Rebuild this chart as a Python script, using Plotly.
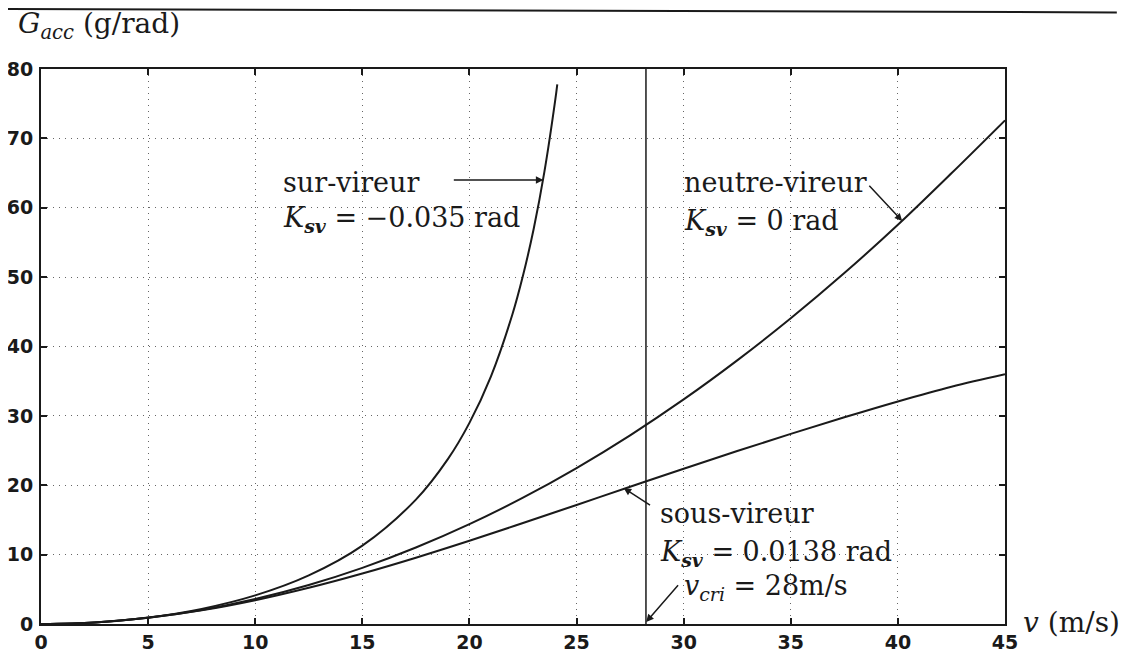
import plotly.graph_objects as go

# Speeds (m/s) and accel gain readings (g/rad)
v_main = [0, 2.5, 5, 7.5, 10, 12.5, 15, 17.5, 20, 22.5, 25, 27.5, 30, 32.5, 35, 37.5, 40, 42.5, 45]
g_neutre = [0, 0.22, 0.90, 2.02, 3.60, 5.62, 8.09, 11.02, 14.39, 18.21, 22.48, 27.20, 32.37, 38.0, 44.06, 50.58, 57.55, 64.97, 72.6]
g_sous = [0, 0.22, 0.89, 1.97, 3.43, 5.22, 7.28, 9.56, 12.0, 14.55, 17.16, 19.78, 22.38, 24.93, 27.40, 29.79, 32.08, 34.2, 36.0]

v_sur = [0, 2.5, 5, 7.5, 10, 12.5, 15, 17.5, 19, 20, 21, 22, 22.5, 23, 23.5, 24, 24.1]
g_sur = [0, 0.23, 0.93, 2.18, 4.12, 7.00, 11.29, 17.93, 23.8, 28.99, 35.67, 44.57, 50.22, 56.97, 65.2, 75.4, 77.8]

v_cri = 28.24

x_ticks = [0, 5, 10, 15, 20, 25, 30, 35, 40, 45]
y_ticks = [0, 10, 20, 30, 40, 50, 60, 70, 80]

SERIF = "DejaVu Serif, Liberation Serif, serif"
TXT = 27
INK = "#1a1a1a"

fig = go.Figure()
line = dict(color=INK, width=2, shape="spline")
fig.add_trace(go.Scatter(x=v_sur, y=g_sur, mode="lines", line=line, showlegend=False))
fig.add_trace(go.Scatter(x=v_main, y=g_neutre, mode="lines", line=line, showlegend=False))
fig.add_trace(go.Scatter(x=v_main, y=g_sous, mode="lines", line=line, showlegend=False))
fig.add_trace(go.Scatter(x=[v_cri, v_cri], y=[0, 80], mode="lines",
                         line=dict(color=INK, width=1.5), showlegend=False))

ann = []
def txt(x, y, s):
    ann.append(dict(x=x, y=y, xref="x", yref="y", text=s, showarrow=False,
                    xanchor="left", yanchor="middle",
                    font=dict(family=SERIF, size=TXT, color=INK)))
def arr(x0, y0, x1, y1):
    ann.append(dict(x=x1, y=y1, ax=x0, ay=y0, xref="x", yref="y", axref="x", ayref="y",
                    text="", showarrow=True, arrowhead=2, arrowsize=1, arrowwidth=1.5,
                    arrowcolor=INK, standoff=0))

K = "<i>K</i><sub><i><b>sv</b></i></sub>"
txt(11.2, 63.6, "sur-vireur")
txt(11.2, 58.3, K + " = −0.035 rad")
arr(19.2, 64.0, 23.45, 64.0)
txt(29.9, 63.6, "neutre-vireur")
txt(29.9, 57.9, K + " = 0 rad")
arr(38.6, 63.4, 40.2, 58.1)
txt(28.8, 16.0, "sous-vireur")
txt(28.8, 10.2, K + " = 0.0138 rad")
arr(28.5, 17.0, 27.2, 19.6)
txt(29.9, 5.3, "<i>v</i><sub><i>cri</i></sub> = 28m/s")
arr(29.8, 5.8, 28.25, 0.3)

ann.append(dict(x=-0.026, y=1.079, xref="paper", yref="paper", xanchor="left", yanchor="middle",
                text="<i>G</i><sub><i>acc</i></sub> (g/rad)", showarrow=False,
                font=dict(family=SERIF, size=28, color=INK)))
ann.append(dict(x=1.017, y=0.002, xref="paper", yref="paper", xanchor="left", yanchor="middle",
                text="<i>v</i> (m/s)", showarrow=False,
                font=dict(family=SERIF, size=28, color=INK)))

axis_common = dict(showline=True, linecolor=INK, linewidth=2, mirror="ticks",
                   ticks="inside", ticklen=6, tickwidth=2, tickcolor=INK,
                   showgrid=True, gridcolor="#666666", gridwidth=1, griddash="1px,5px",
                   zeroline=False, automargin=False,
                   tickfont=dict(family="DejaVu Sans", size=19, color=INK, weight="bold"))

# page body adds an 8px offset; margins compensate so the plot area lands at x 41-1005, y 69-624
fig.update_layout(
    width=1140, height=654,
    margin=dict(l=33, r=143, t=61, b=38, autoexpand=False),
    paper_bgcolor="white", plot_bgcolor="white",
    xaxis=dict(range=[0, 45], tickvals=x_ticks, **axis_common),
    yaxis=dict(range=[0, 80], tickvals=y_ticks, ticklabelstandoff=2, **axis_common),
    annotations=ann,
    shapes=[dict(type="line", xref="paper", yref="paper", x0=-0.05, y0=1.108, x1=1.116, y1=1.102,
                 line=dict(color=INK, width=2))],
)

fig.write_html("out.html")
